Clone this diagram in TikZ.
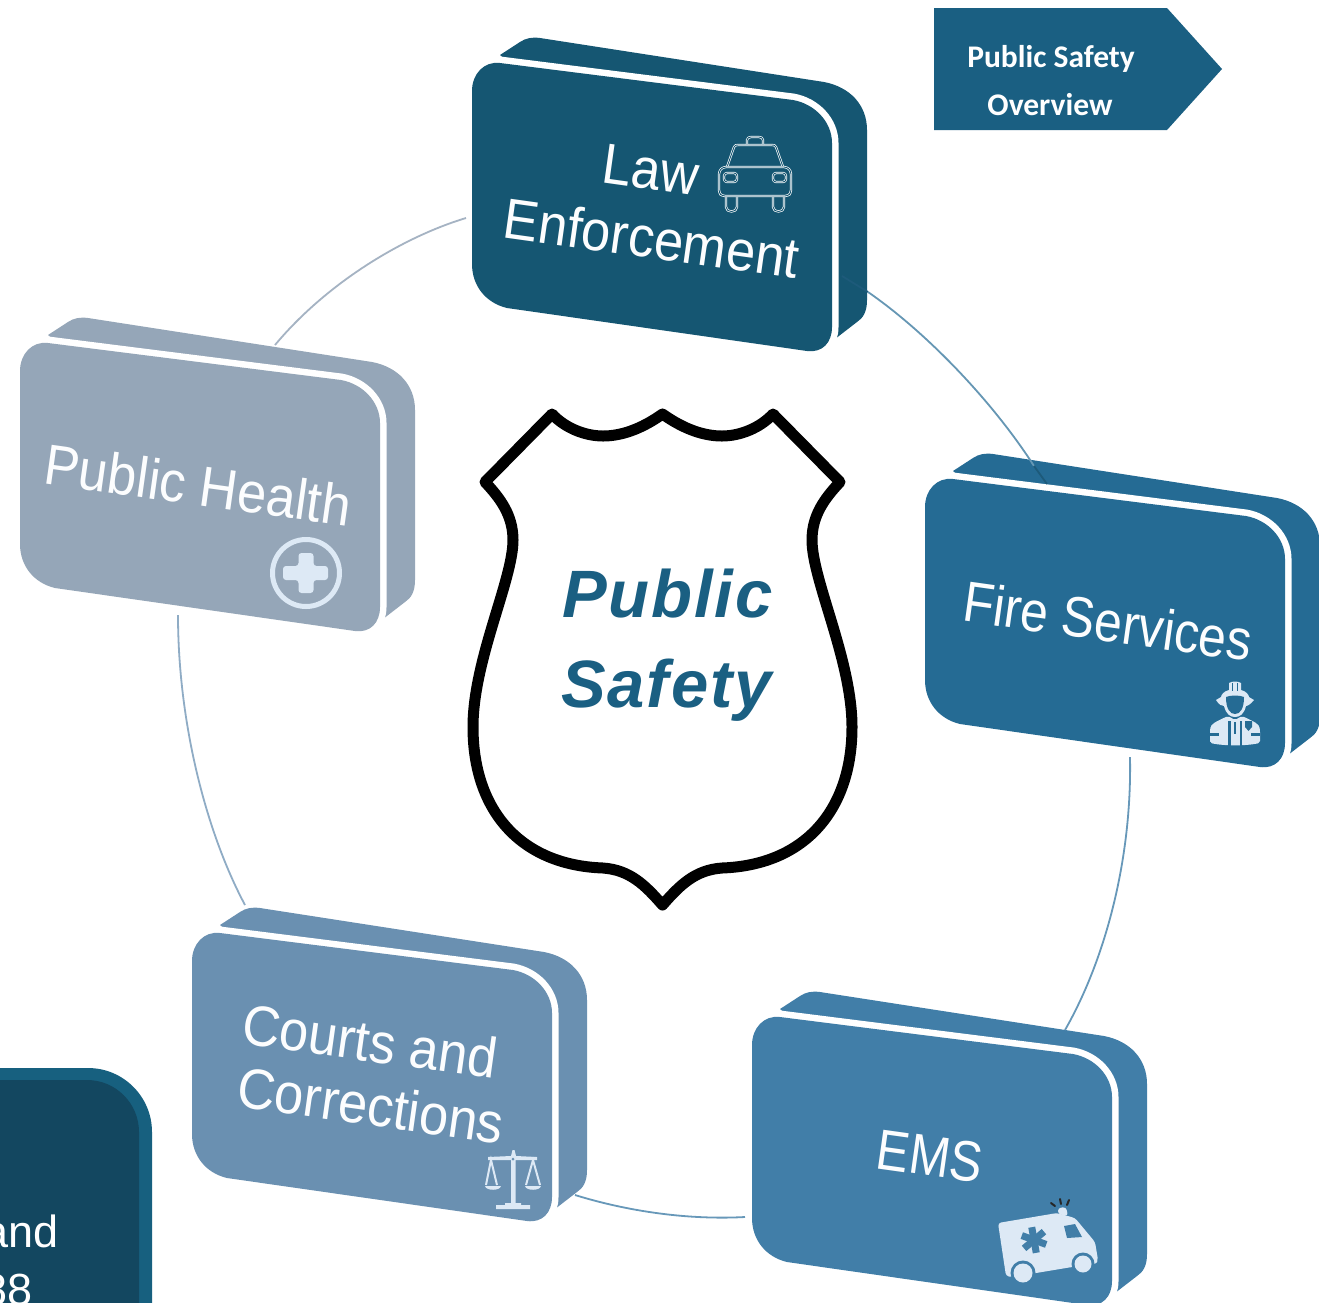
\documentclass[tikz,border=0pt]{standalone}
\usepackage{fontspec}
\setmainfont{Liberation Sans}
\newfontfamily\carlitofont{Carlito}
\newfontfamily\centerfont[LetterSpace=2.8]{Liberation Sans}
\definecolor{lawc}{HTML}{155672}
\definecolor{firec}{HTML}{256B94}
\definecolor{emsc}{HTML}{417EA8}
\definecolor{courtc}{HTML}{6A90B1}
\definecolor{healthc}{HTML}{95A6B8}
\definecolor{titlec}{HTML}{1A5F82}
\definecolor{iconc}{HTML}{DDE9F5}
\definecolor{boxdark}{HTML}{134760}
\definecolor{boxedge}{HTML}{17607F}
\definecolor{sidedark}{HTML}{1D5A7A}
\tikzset{
  cardtext/.style={text=white!90!iconc,font=\fontsize{57}{60}\selectfont,inner sep=0pt,rotate=-8,xscale=.92},
  centertext/.style={anchor=base west,text=titlec,font=\centerfont\bfseries\itshape\fontsize{67}{70}\selectfont,inner sep=0pt},
  overtext/.style={text=white,font=\carlitofont\bfseries\fontsize{31.5}{34}\selectfont,inner sep=0pt},
  boxtext/.style={anchor=base east,text=white,font=\fontsize{45}{50}\selectfont,inner sep=0pt},
  ringline/.style={line width=1.8pt},
  carline/.style={draw=white,double=lawc,double distance=.9pt,line width=.7pt,line join=round},
}
\newcommand{\cardbody}[3]{%
  \begin{scope}[shift={(#1,#2)}]
    \fill[#3] (500,55) -- (520,42) .. controls (526,38) and (532,37) .. (540,38) -- (824,82)
      .. controls (850,87) and (867,105) .. (867,130) -- (867,300)
      .. controls (867,312) and (863,318) .. (857,322) -- (835,339) -- cycle;
    \path[draw=white,line width=13pt,fill=white] (472,91) .. controls (472,74) and (484,61) .. (500,63) -- (793,100)
      .. controls (815,104) and (832,122) .. (832,143) -- (832,327)
      .. controls (832,343) and (822,353) .. (807,351) -- (507,308)
      .. controls (486,303) and (472,286) .. (472,264) -- cycle;
    \fill[#3] (472,91) .. controls (472,74) and (484,61) .. (500,63) -- (793,100)
      .. controls (815,104) and (832,122) .. (832,143) -- (832,327)
      .. controls (832,343) and (822,353) .. (807,351) -- (507,308)
      .. controls (486,303) and (472,286) .. (472,264) -- cycle;
  \end{scope}}
\begin{document}
\begin{tikzpicture}[x=1pt,y=-1pt]
\clip (0,0) rectangle (1319,1302);
\fill[white] (0,0) rectangle (1319,1302);
% cards
\cardbody{0}{0}{lawc}
\cardbody{453}{416}{firec}
\cardbody{-452}{280}{healthc}
\cardbody{-280}{870}{courtc}
\cardbody{280}{954}{emsc}
% connector ends
\coordinate (lawSide) at (842,276);
\coordinate (lawE) at (868,292);
\coordinate (fireEdge) at (1034,466);
\coordinate (fireN) at (1047,484);
\coordinate (fireS) at (1130,757);
\coordinate (emsN) at (1065,1030);
\coordinate (emsW) at (745,1217);
\coordinate (courtE) at (575,1195);
\coordinate (courtN) at (245,905);
\coordinate (healthS) at (178,615);
\coordinate (healthN) at (275,345);
\coordinate (lawW) at (466,218);
\draw[ringline,draw=sidedark] (lawSide) -- (lawE);
\draw[ringline,draw=firec!70!white] (lawE) .. controls (930,335) and (995,405) .. (fireEdge);
\draw[ringline,draw=sidedark] (fireEdge) -- (fireN);
\draw[ringline,draw=emsc!80!white] (fireS) .. controls (1132,860) and (1105,960) .. (emsN);
\draw[ringline,draw=emsc!80!white] (emsW) .. controls (690,1220) and (630,1212) .. (courtE);
\draw[ringline,draw=courtc!75!white] (courtN) .. controls (205,830) and (178,720) .. (healthS);
\draw[ringline,draw=healthc!85!white] (healthN) .. controls (325,285) and (400,238) .. (lawW);
% card text
\node[cardtext] (lawa) at (651,170) {Law};
\node[cardtext] (lawb) at (652,238) {Enforcement};
\node[cardtext,xscale=.95] (fire) at (1108,621) {Fire Services};
\node[cardtext,xscale=.93] (ems) at (930,1156) {EMS};
\node[cardtext] (courta) at (370,1041) {Courts and};
\node[cardtext] (courtb) at (371,1105) {Corrections};
\node[cardtext] (health) at (198,485) {Public Health};
% shield
\draw[black,line width=11pt,line join=round,fill=white] (662.5,414)
  .. controls (640,430) and (620,436) .. (603,436)
  .. controls (585,436) and (565,428) .. (552,414) -- (485,482)
  .. controls (500,498) and (513,515) .. (513,540)
  .. controls (513,580) and (473,660) .. (473,727)
  .. controls (473,810) and (520,865) .. (603,868)
  .. controls (630,870) and (645,885) .. (662.5,905)
  .. controls (680,885) and (695,870) .. (722,868)
  .. controls (805,865) and (852,810) .. (852,727)
  .. controls (852,660) and (812,580) .. (812,540)
  .. controls (812,515) and (825,498) .. (840,482) -- (773,414)
  .. controls (760,428) and (740,436) .. (722,436)
  .. controls (705,436) and (685,430) .. (662.5,414) -- cycle;
\node[centertext] (ps1) at (562,617) {Public};
\node[centertext] (ps2) at (561,707) {Safety};
% top right arrow
\fill[titlec] (934,8) -- (1167,8) -- (1222,69) -- (1167,130) -- (934,130) -- cycle;
\node[overtext] (ov1) at (1051,59) {Public Safety};
\node[overtext] (ov2) at (1050,105) {Overview};
% bottom-left box
\fill[boxedge,rounded corners=64pt] (-80,1068) rectangle (152,1400);
\fill[boxdark,rounded corners=52pt] (-80,1080) rectangle (139,1400);
\node[boxtext] (bx1) at (59,1247) {and};
\node[boxtext] (bx2) at (33,1305) {88};
% car icon
\draw[carline] (727,167) -- (734,147) .. controls (735,145) and (736,145) .. (738,145) -- (772,145) .. controls (774,145) and (775,145) .. (776,147) -- (783,167);
\draw[carline] (747,145) -- (747,140) .. controls (747,138) and (749,137) .. (751,137) -- (759,137) .. controls (761,137) and (763,138) .. (763,140) -- (763,145);
\draw[carline,rounded corners=3pt] (719,171) -- (723,167) -- (787,167) -- (791,171) -- (791,193) -- (788,196) -- (722,196) -- (719,193) -- cycle;
\draw[carline,rounded corners=3pt] (724,173) rectangle (737,182);
\draw[carline,rounded corners=3pt] (773,173) rectangle (786,182);
\draw[carline] (726,197) -- (726,207) .. controls (726,213) and (737,213) .. (737,207) -- (737,197);
\draw[carline] (773,197) -- (773,207) .. controls (773,213) and (784,213) .. (784,207) -- (784,197);
% firefighter icon
\fill[iconc] (1229,690) -- (1229,683) .. controls (1232,681) and (1238,681) .. (1241,683) -- (1241,690) .. controls (1246,691) and (1249,695) .. (1249,697) -- (1254,700) .. controls (1250,705) and (1247,706) .. (1246,706) .. controls (1244,714) and (1240,717) .. (1235,717) .. controls (1230,717) and (1226,714) .. (1224,706) .. controls (1222,706) and (1219,705) .. (1216,700) -- (1221,697) .. controls (1221,695) and (1224,691) .. (1229,690) -- cycle;
\fill[firec] (1226,697) .. controls (1230,695) and (1240,695) .. (1244,697) .. controls (1244,709) and (1240,714) .. (1235,714) .. controls (1230,714) and (1226,709) .. (1226,697) -- cycle;
\fill[firec] (1231.8,683) rectangle (1233,691);
\fill[firec] (1237,683) rectangle (1238.2,691);
\fill[iconc,rounded corners=2pt] (1210,743) -- (1210,730) .. controls (1211,724) and (1215,722) .. (1228,716) -- (1235,720) -- (1242,716) .. controls (1255,722) and (1259,724) .. (1260,730) -- (1260,743) .. controls (1245,746) and (1225,746) .. cycle;
\fill[firec] (1228,721) -- (1230.5,721) -- (1230.5,746) -- (1228,746) -- cycle;
\fill[firec] (1239.5,721) -- (1242,721) -- (1242,746) -- (1239.5,746) -- cycle;
\fill[firec] (1234.2,722) rectangle (1235.8,734);
\fill[firec] (1210,733) rectangle (1219,736);
\fill[firec] (1251,733) rectangle (1260,736);
\fill[firec] (1245,721) -- (1252,721) -- (1252,727) -- (1248.5,731) -- (1245,727) -- cycle;
% ambulance icon
\fill[iconc,rounded corners=3pt] (998,1223) -- (1057,1213) -- (1075,1218) -- (1095,1242) -- (1098,1260) -- (1096,1264) -- (1072,1267) -- (1012,1277) -- (1006,1276) -- cycle;
\fill[iconc,rounded corners=3pt] (1058,1214) -- (1058,1208) -- (1066,1207) -- (1068,1216) -- cycle;
\fill[emsc] (1064,1226) -- (1075,1224) -- (1082,1237) -- (1067,1238) -- cycle;
\fill[emsc] (1023,1273) circle (12.5);
\fill[emsc] (1083,1264) circle (11.5);
\fill[iconc] (1023,1273) circle (9.5);
\fill[iconc] (1083,1264) circle (8.5);
\foreach \a in {10,70,130}{\draw[emsc,line width=7pt,rotate around={\a:(1034,1240)}] (1034,1227) -- (1034,1253);}
\draw[black!85,line width=2pt,line cap=round] (1051,1203) -- (1055,1206);
\draw[black!85,line width=2pt,line cap=round] (1060,1199) -- (1061,1204);
\draw[black!85,line width=2pt,line cap=round] (1069,1200) -- (1067,1205);
% scales icon
\fill[iconc] (511,1156) -- (512.5,1150) -- (514.5,1150) -- (516,1156) -- (537,1157) -- (537,1160) -- (515.5,1160) -- (515.5,1203) -- (521,1203) -- (521,1205) -- (530,1205) -- (530,1209) -- (496,1209) -- (496,1205) -- (505,1205) -- (505,1203) -- (511,1203) -- (511,1160) -- (488,1160) -- (488,1157) -- cycle;
\fill[courtc] (513,1159) circle (1.5);
\draw[iconc,line width=2pt] (486,1185) -- (491,1160) -- (497,1185);
\draw[iconc,line width=2pt] (526,1185) -- (533,1160) -- (540,1185);
\fill[iconc] (485,1186) -- (501,1186) .. controls (500,1191) and (486,1191) .. (485,1186) -- cycle;
\fill[iconc] (525,1186) -- (541,1186) .. controls (540,1191) and (526,1191) .. (525,1186) -- cycle;
% plus icon
\draw[iconc,line width=5pt] (306,573) circle (33.5);
\fill[iconc,rounded corners=3pt] (298.5,553) -- (313.5,553) -- (313.5,566) -- (328,566) -- (328,580) -- (313.5,580) -- (313.5,593) -- (298.5,593) -- (298.5,580) -- (283,580) -- (283,566) -- (298.5,566) -- cycle;
\end{tikzpicture}
\end{document}
